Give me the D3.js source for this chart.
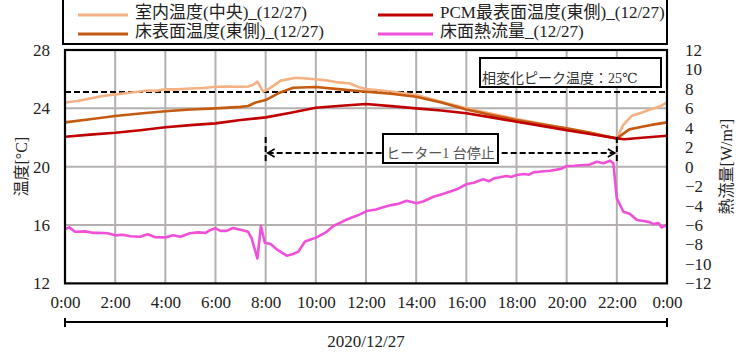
<!DOCTYPE html>
<html><head><meta charset="utf-8">
<script src="https://cdn.jsdelivr.net/npm/d3@7"></script>
<style>
body{margin:0;background:#fff;}
svg{display:block;font-family:"Liberation Serif","DejaVu Serif","Noto Sans CJK JP",serif;}
</style></head>
<body><svg id="c" width="749" height="353"></svg>
<script>
// ---- data ----
const seriesNames = ["室内温度(中央)_(12/27)","床表面温度(東側)_(12/27)","PCM最表面温度(東側)_(12/27)","床面熱流量_(12/27)"];
const xTickHours = [0,2,4,6,8,10,12,14,16,18,20,22,24];
const leftTicks = [12,16,20,24,28];
const rightTicks = [-12,-10,-8,-6,-4,-2,0,2,4,6,8,10,12];
const dateLabel = "2020/12/27";
const yLeftTitle = "温度[°C]";
const yRightTitle = "熱流量[W/m²]";
const peakLabel = "相変化ピーク温度：25℃";
const heaterLabel = "ヒーター1 台停止";
const peakTemp = 25.12;
const heaterStop = [8, 22];

const indoorT = [0,0.5,1,1.5,2,2.5,3,3.3,3.6,4,4.5,5,5.5,6,6.5,7,7.3,7.5,7.67,7.9,8.1,8.6,9.2,9.6,10,10.4,10.8,11.36,11.76,12,13,14,15,16,17,18,19,20,21,21.86,22,22.25,22.6,23,23.3,23.7,24];
const indoor  = [24.4,24.5,24.68,24.85,24.96,25.05,25.15,25.22,25.2,25.3,25.3,25.36,25.4,25.48,25.5,25.48,25.5,25.62,25.83,25.15,25.3,25.9,26.1,26.05,26.0,25.92,25.8,25.7,25.42,25.32,25.15,24.92,24.45,24.0,23.62,23.27,22.95,22.6,22.3,21.98,21.95,22.85,23.5,23.72,23.9,24.12,24.4];

const floorT = [0,1,2,3,4,5,6,7,7.3,7.6,8,8.5,9.1,10,11,12,13,14,15,16,17,18,19,20,21,22,22.5,23,23.5,24];
const floorS = [23.04,23.25,23.47,23.65,23.8,23.92,24.0,24.1,24.16,24.4,24.57,25.03,25.41,25.46,25.3,25.14,25.0,24.8,24.4,23.92,23.55,23.2,22.9,22.63,22.3,21.94,22.56,22.74,22.9,23.04];

const pcmT = [0,1,2,3,4,5,6,7,8,9,10,11,12,13,14,15,16,17,18,19,20,21,22,22.3,23,24];
const pcm  = [22.05,22.2,22.33,22.5,22.7,22.85,22.97,23.2,23.38,23.7,24.04,24.18,24.3,24.15,24.0,23.85,23.66,23.38,23.08,22.8,22.5,22.22,21.94,21.88,21.98,22.12];

const fluxT = [0,0.17,0.4,0.8,1.1,1.33,1.7,2.0,2.3,2.6,3.0,3.3,3.6,4.0,4.3,4.6,4.98,5.3,5.6,5.8,6.0,6.2,6.44,6.7,7.04,7.3,7.44,7.67,7.81,7.97,8.2,8.44,8.84,9.1,9.3,9.57,10.03,10.43,10.7,11.1,11.36,11.76,12.03,12.4,12.69,13.0,13.3,13.62,14.02,14.3,14.69,15.0,15.3,15.62,16.02,16.3,16.5,16.68,16.9,17.1,17.34,17.6,17.8,18.0,18.3,18.5,18.67,19.0,19.34,19.6,19.8,20.0,20.3,20.67,20.9,21.2,21.47,21.73,21.86,22.0,22.26,22.53,22.8,23.06,23.3,23.46,23.66,23.79,24.0];
const flux  = [-6.41,-6.24,-6.69,-6.65,-6.8,-6.79,-6.85,-7.06,-7.0,-7.15,-7.2,-6.95,-7.25,-7.27,-7.05,-7.2,-6.85,-6.75,-6.8,-6.5,-6.34,-6.6,-6.6,-6.3,-6.51,-6.69,-7.37,-9.43,-6.1,-7.82,-7.95,-8.5,-9.15,-8.98,-8.74,-7.7,-7.27,-6.69,-6.1,-5.59,-5.3,-4.9,-4.56,-4.4,-4.18,-3.95,-3.8,-3.5,-3.77,-3.55,-3.09,-2.85,-2.6,-2.33,-1.78,-1.65,-1.45,-1.3,-1.5,-1.2,-1.09,-0.95,-1.05,-0.85,-0.75,-0.82,-0.58,-0.5,-0.41,-0.3,-0.2,0.07,0.1,0.17,0.2,0.51,0.35,0.62,0.35,-3.25,-4.63,-4.87,-5.48,-5.59,-5.7,-5.9,-5.8,-6.24,-6.0];

const colors = ["#f4b183","#c55a11","#c00000","#f050d8"];

// ---- chart ----
const svg = d3.select("#c");
const x = d3.scaleLinear().domain([0,24]).range([65,667]);
const yL = d3.scaleLinear().domain([12,28]).range([283.4,50]);
const yR = d3.scaleLinear().domain([-12,12]).range([283.4,50]);
const font = 17;

// gridlines
const grid = svg.append("g").attr("stroke","#b4b0b0").attr("stroke-width",2);
xTickHours.filter(h=>h>0&&h<24).forEach(h=>{
  grid.append("line").attr("x1",x(h)).attr("x2",x(h)).attr("y1",yL(28)).attr("y2",yL(12));
});
leftTicks.filter(v=>v>12&&v<28).forEach(v=>{
  grid.append("line").attr("x1",x(0)).attr("x2",x(24)).attr("y1",yL(v)).attr("y2",yL(v));
});

// peak dashed line
svg.append("line").attr("x1",x(0)).attr("x2",x(24)).attr("y1",yL(peakTemp)).attr("y2",yL(peakTemp))
  .attr("stroke","#000").attr("stroke-width",2).attr("stroke-dasharray","6,3");

// series
const mk = (ts, vs, sc) => ts.map((t,i)=>[x(t), sc(vs[i])]);
const line = d3.line();
const data = [mk(indoorT,indoor,yL), mk(floorT,floorS,yL), mk(pcmT,pcm,yL), mk(fluxT,flux,yR)];
data.forEach((d,i)=>{
  svg.append("path").attr("d",line(d)).attr("fill","none").attr("stroke",colors[i])
    .attr("stroke-width",2.6).attr("stroke-linejoin","round");
});

// heater annotation
const yTop = yL(22.03), yBot = yL(20.2), yArr = yL(20.94);
const ann = svg.append("g").attr("stroke","#000").attr("stroke-width",2).attr("fill","none");
heaterStop.forEach(h=>{
  ann.append("line").attr("x1",x(h)).attr("x2",x(h)).attr("y1",yTop).attr("y2",yBot).attr("stroke-dasharray","6,3");
});
ann.append("line").attr("x1",x(heaterStop[0])+2).attr("x2",x(heaterStop[1])-2).attr("y1",yArr).attr("y2",yArr).attr("stroke-dasharray","6,3");
ann.append("path").attr("d",`M${x(heaterStop[0])+9},${yArr-4} L${x(heaterStop[0])+2},${yArr} L${x(heaterStop[0])+9},${yArr+4}`).attr("stroke-width",1.6);
ann.append("path").attr("d",`M${x(heaterStop[1])-9},${yArr-4} L${x(heaterStop[1])-2},${yArr} L${x(heaterStop[1])-9},${yArr+4}`).attr("stroke-width",1.6);
// heater label box
svg.append("rect").attr("x",383).attr("y",134).attr("width",115).attr("height",29)
  .attr("fill","#fff").attr("stroke","#000").attr("stroke-width",2);
svg.append("text").attr("x",440.5).attr("y",155).attr("text-anchor","middle").attr("dominant-baseline","middle")
  .attr("font-size",14).attr("fill","#555").text(heaterLabel);

// peak label box
svg.append("rect").attr("x",480).attr("y",58).attr("width",181).attr("height",29)
  .attr("fill","#fff").attr("stroke","#000").attr("stroke-width",2);
svg.append("text").attr("x",482).attr("y",80).attr("dominant-baseline","middle")
  .attr("font-size",14).attr("fill","#333").text(peakLabel);

// plot frame
svg.append("rect").attr("x",x(0)).attr("y",yL(28)).attr("width",x(24)-x(0)).attr("height",yL(12)-yL(28))
  .attr("fill","none").attr("stroke","#000").attr("stroke-width",2.2);

// axes
const styleAxis = g => { g.select(".domain").remove(); g.selectAll("text").attr("font-size",font).attr("fill","#222").attr("font-family","Liberation Serif, DejaVu Serif, serif"); };
svg.append("g").attr("transform",`translate(${x(0)},0)`)
  .call(d3.axisLeft(yL).tickValues(leftTicks).tickSize(0).tickPadding(15)).call(styleAxis);
svg.append("g").attr("transform",`translate(${x(24)},0)`)
  .call(d3.axisRight(yR).tickValues(rightTicks).tickSize(0).tickPadding(18)).call(styleAxis);
svg.append("g").attr("transform",`translate(0,${yL(12)})`)
  .call(d3.axisBottom(x).tickValues(xTickHours).tickSize(0).tickPadding(13).tickFormat(h=>(h%24)+":00")).call(styleAxis);

// axis titles
svg.append("text").attr("transform",`translate(23,${yL(20)}) rotate(-90)`).attr("text-anchor","middle")
  .attr("dominant-baseline","middle").attr("font-size",16).attr("fill","#222").text(yLeftTitle);
svg.append("text").attr("transform",`translate(728,${yR(0)}) rotate(-90)`).attr("text-anchor","middle")
  .attr("dominant-baseline","middle").attr("font-size",16).attr("fill","#222").text(yRightTitle);

// date bracket
const br = svg.append("g").attr("stroke","#000").attr("stroke-width",2);
br.append("line").attr("x1",x(0)).attr("x2",x(24)).attr("y1",322).attr("y2",322);
br.append("line").attr("x1",x(0)).attr("x2",x(0)).attr("y1",318).attr("y2",327);
br.append("line").attr("x1",x(24)).attr("x2",x(24)).attr("y1",318).attr("y2",327);
svg.append("text").attr("x",(x(0)+x(24))/2).attr("y",343).attr("text-anchor","middle").attr("dominant-baseline","middle")
  .attr("font-size",17).attr("fill","#222").text(dateLabel);

// legend
svg.append("rect").attr("x",63).attr("y",-2).attr("width",604).attr("height",46)
  .attr("fill","#fff").attr("stroke","#000").attr("stroke-width",2);
const legPos = [[78,15],[78,34],[378,15],[378,34]];
seriesNames.forEach((n,i)=>{
  const [lx,ly] = legPos[i];
  const w = i<2 ? 50 : 55;
  svg.append("line").attr("x1",lx).attr("x2",lx+w).attr("y1",ly).attr("y2",ly)
    .attr("stroke",colors[i]).attr("stroke-width",3);
  svg.append("text").attr("x",lx+w+7).attr("y",ly-1).attr("dominant-baseline","middle")
    .attr("font-size",17).attr("fill","#222").text(n);
});
</script></body></html>
